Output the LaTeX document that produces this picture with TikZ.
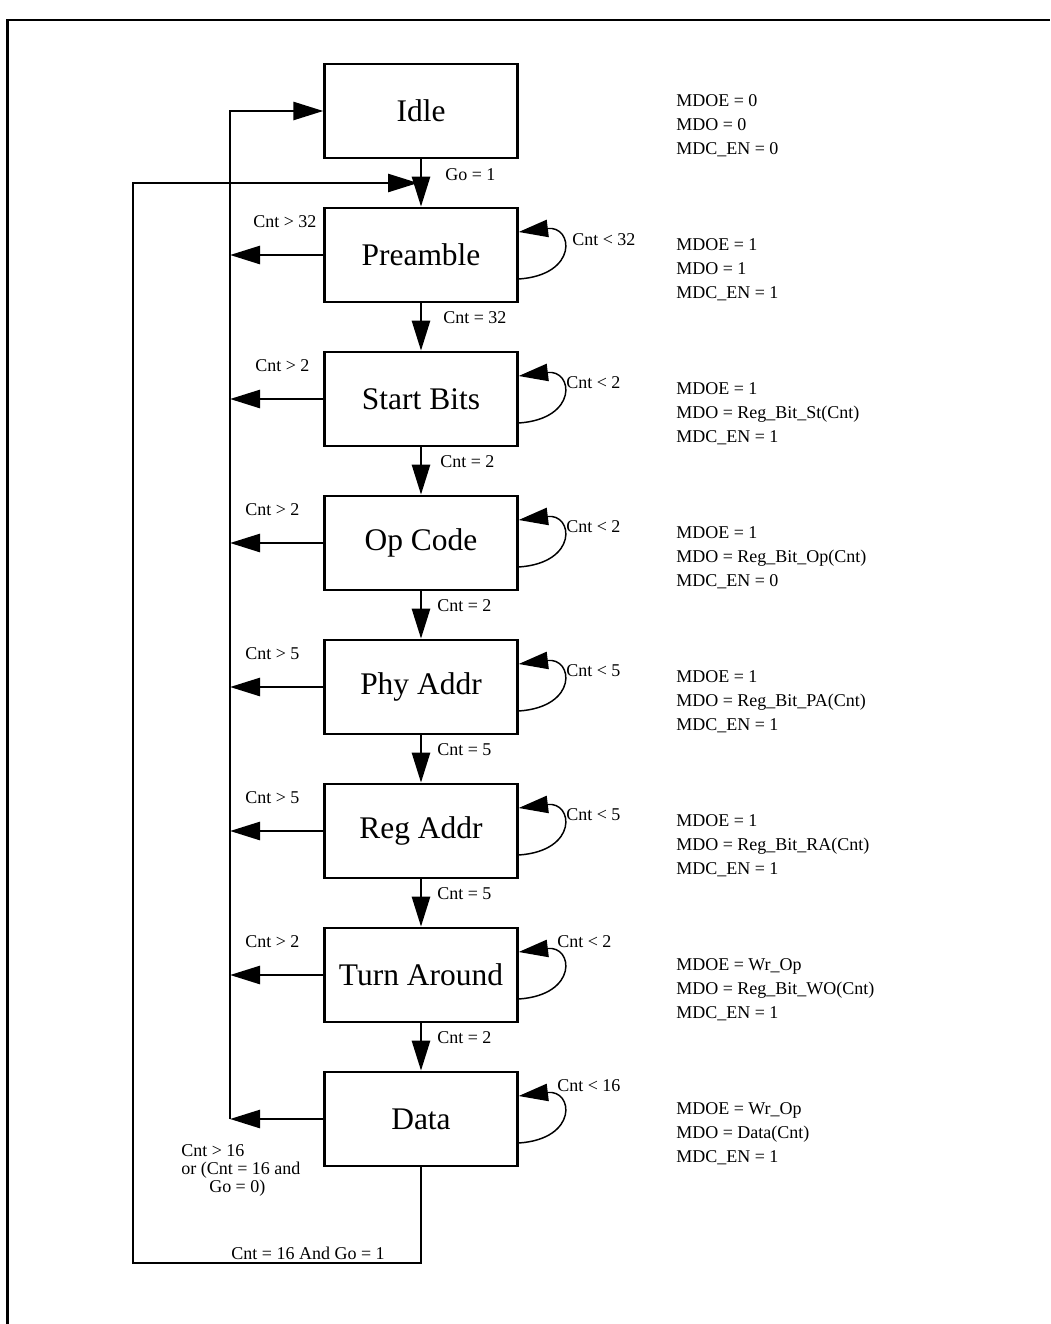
\documentclass[tikz,border=0pt]{standalone}
\usepackage{fontspec}
\setmainfont{Liberation Serif}
\usetikzlibrary{arrows.meta}
\begin{document}
\begin{tikzpicture}[x=0.75pt,y=-0.75pt,
  box/.style={draw, line width=2pt, minimum width=144.5pt, minimum height=70.5pt, inner sep=0pt, font=\fontsize{23.6}{28}\selectfont},
  lbl/.style={font=\fontsize{13.5}{16}\selectfont, inner sep=0pt, anchor=west},
  info/.style={font=\fontsize{13.5}{18}\selectfont, inner sep=0pt, align=left, anchor=west},
  conn/.style={line width=2pt},
  arr/.style={conn, -{Triangle[length=22.5pt,width=13.5pt]}},
  selfloop/.style={line width=1.1pt, -{Triangle[length=22pt,width=13pt]}},
  frame/.style={line width=2.2pt}
]
\useasboundingbox (0,0) rectangle (1050,1324);
\draw[frame] (7.5,1324) -- (7.5,20) -- (1050,20);

% states
\node[box] (idle) at (421,111) {Idle};
\node[box] (pre)  at (421,255) {Preamble};
\node[box] (sb)   at (421,399) {Start Bits};
\node[box] (op)   at (421,543) {Op Code};
\node[box] (pa)   at (421,687) {Phy Addr};
\node[box] (ra)   at (421,831) {Reg Addr};
\node[box] (ta)   at (421,975) {Turn Around};
\node[box] (dat)  at (421,1119) {Data};

% bus and outer loop coordinates
\coordinate (busT) at (230,111);
\coordinate (busB) at (230,1119);
\coordinate (lb) at (133,1263);
\coordinate (lt) at (133,183);
\coordinate (ent) at (418,183);

% forward transitions
\draw[arr] (idle.south) -- (pre.north);
\draw[arr] (pre.south) -- (sb.north);
\draw[arr] (sb.south) -- (op.north);
\draw[arr] (op.south) -- (pa.north);
\draw[arr] (pa.south) -- (ra.north);
\draw[arr] (ra.south) -- (ta.north);
\draw[arr] (ta.south) -- (dat.north);

% return bus to idle
\draw[arr] (busB) -- (busT) -- (idle.west);
\foreach \s in {pre,sb,op,pa,ra,ta,dat}{
  \draw[arr] (\s.west) -- (\s.west -| busT);
}

% outer loop from Data to Preamble
\draw[arr] (dat.south) |- (lb) -- (lt) -- (ent);

% self loops
\foreach \s in {pre,sb,op,pa,ra,ta,dat}{
  \draw[selfloop] ([yshift=-18pt]\s.east) .. controls +(45pt,3pt) and +(41pt,5pt) .. ([yshift=17.25pt]\s.east);
}

% down labels
\node[lbl] (l1) at (445,175) {Go = 1};
\node[lbl] (l2) at (443,318) {Cnt = 32};
\node[lbl] (l3) at (440,462) {Cnt = 2};
\node[lbl] (l4) at (437,606) {Cnt = 2};
\node[lbl] (l5) at (437,750) {Cnt = 5};
\node[lbl] (l6) at (437,894) {Cnt = 5};
\node[lbl] (l7) at (437,1038) {Cnt = 2};

% left labels
\node[lbl] (g1) at (253,222) {Cnt > 32};
\node[lbl] (g2) at (255,366) {Cnt > 2};
\node[lbl] (g3) at (245,510) {Cnt > 2};
\node[lbl] (g4) at (245,654) {Cnt > 5};
\node[lbl] (g5) at (245,798) {Cnt > 5};
\node[lbl] (g6) at (245,942) {Cnt > 2};
\node[info, font=\fontsize{13.5}{13.5}\selectfont] (g7) at (181,1170) {Cnt > 16\\or (Cnt = 16 and\\\hspace*{21pt}Go = 0)};
\node[lbl, anchor=center] (g8) at (308,1253) {Cnt = 16 And Go = 1};

% self loop labels
\node[lbl] (s1) at (572,240) {Cnt < 32};
\node[lbl] (s2) at (566,383) {Cnt < 2};
\node[lbl] (s3) at (566,527) {Cnt < 2};
\node[lbl] (s4) at (566,671) {Cnt < 5};
\node[lbl] (s5) at (566,815) {Cnt < 5};
\node[lbl] (s6) at (557,942) {Cnt < 2};
\node[lbl] (s7) at (557,1086) {Cnt < 16};

% outputs
\node[info] (o1) at (676,126) {MDOE = 0\\MDO = 0\\MDC\_EN = 0};
\node[info] (o2) at (676,270) {MDOE = 1\\MDO = 1\\MDC\_EN = 1};
\node[info] (o3) at (676,414) {MDOE = 1\\MDO = Reg\_Bit\_St(Cnt)\\MDC\_EN = 1};
\node[info] (o4) at (676,558) {MDOE = 1\\MDO = Reg\_Bit\_Op(Cnt)\\MDC\_EN = 0};
\node[info] (o5) at (676,702) {MDOE = 1\\MDO = Reg\_Bit\_PA(Cnt)\\MDC\_EN = 1};
\node[info] (o6) at (676,846) {MDOE = 1\\MDO = Reg\_Bit\_RA(Cnt)\\MDC\_EN = 1};
\node[info] (o7) at (676,990) {MDOE = Wr\_Op\\MDO = Reg\_Bit\_WO(Cnt)\\MDC\_EN = 1};
\node[info] (o8) at (676,1134) {MDOE = Wr\_Op\\MDO = Data(Cnt)\\MDC\_EN = 1};
\end{tikzpicture}
\end{document}
